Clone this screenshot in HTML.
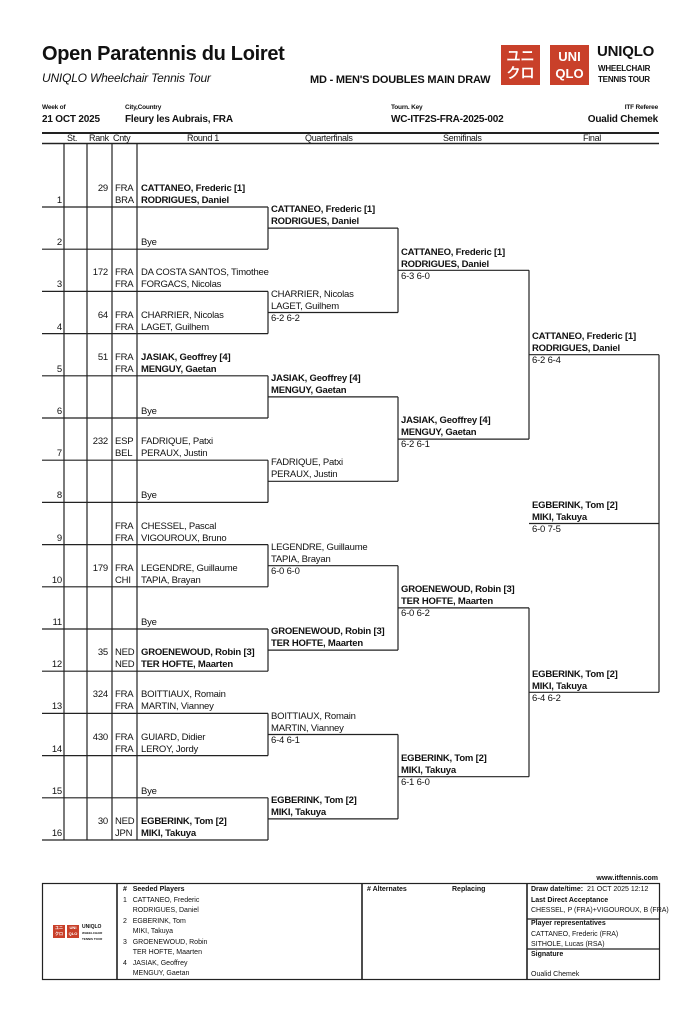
<!DOCTYPE html>
<html><head><meta charset="utf-8"><style>
*{margin:0;padding:0;box-sizing:border-box}
body{width:700px;height:1024px;background:#fff;position:relative;overflow:hidden;font-family:"Liberation Sans",sans-serif;color:#111}
.t{position:absolute;white-space:nowrap;font-size:9.5px;line-height:12px;letter-spacing:-0.2px}
.b{font-weight:bold}
.n{text-align:right}
svg{position:absolute;left:0;top:0}
.red{position:absolute;background:#c9402a;color:#fff;font-weight:bold;text-align:center}
.s{position:absolute;white-space:nowrap;font-size:7px;line-height:10.5px}
.h{position:absolute;white-space:nowrap;font-size:9px;line-height:10px;top:133px;letter-spacing:-0.3px}
</style></head><body>
<svg width="700" height="1024" stroke="#222" stroke-width="1.2" fill="none">
<line x1="42" y1="133" x2="659" y2="133" stroke-width="2"/>
<line x1="42" y1="143.5" x2="659" y2="143.5" stroke-width="1.5"/>
<line x1="64" y1="143" x2="64" y2="840"/><line x1="87" y1="143" x2="87" y2="840"/><line x1="112" y1="143" x2="112" y2="840"/><line x1="137" y1="143" x2="137" y2="840"/>
<g>
<line x1="42" y1="207" x2="268" y2="207"/><line x1="42" y1="249.2" x2="268" y2="249.2"/>
<line x1="42" y1="291.4" x2="268" y2="291.4"/><line x1="42" y1="333.6" x2="268" y2="333.6"/>
<line x1="42" y1="375.8" x2="268" y2="375.8"/><line x1="42" y1="418" x2="268" y2="418"/>
<line x1="42" y1="460.2" x2="268" y2="460.2"/><line x1="42" y1="502.4" x2="268" y2="502.4"/>
<line x1="42" y1="544.6" x2="268" y2="544.6"/><line x1="42" y1="586.8" x2="268" y2="586.8"/>
<line x1="42" y1="629" x2="268" y2="629"/><line x1="42" y1="671.2" x2="268" y2="671.2"/>
<line x1="42" y1="713.4" x2="268" y2="713.4"/><line x1="42" y1="755.6" x2="268" y2="755.6"/>
<line x1="42" y1="797.8" x2="268" y2="797.8"/><line x1="42" y1="840" x2="268" y2="840"/>
<line x1="268" y1="207" x2="268" y2="249.2"/><line x1="268" y1="291.4" x2="268" y2="333.6"/>
<line x1="268" y1="375.8" x2="268" y2="418"/><line x1="268" y1="460.2" x2="268" y2="502.4"/>
<line x1="268" y1="544.6" x2="268" y2="586.8"/><line x1="268" y1="629" x2="268" y2="671.2"/>
<line x1="268" y1="713.4" x2="268" y2="755.6"/><line x1="268" y1="797.8" x2="268" y2="840"/>
<line x1="268" y1="228.1" x2="398" y2="228.1"/><line x1="268" y1="312.5" x2="398" y2="312.5"/>
<line x1="268" y1="396.9" x2="398" y2="396.9"/><line x1="268" y1="481.3" x2="398" y2="481.3"/>
<line x1="268" y1="565.7" x2="398" y2="565.7"/><line x1="268" y1="650.1" x2="398" y2="650.1"/>
<line x1="268" y1="734.5" x2="398" y2="734.5"/><line x1="268" y1="818.9" x2="398" y2="818.9"/>
<line x1="398" y1="228.1" x2="398" y2="312.5"/><line x1="398" y1="396.9" x2="398" y2="481.3"/>
<line x1="398" y1="565.7" x2="398" y2="650.1"/><line x1="398" y1="734.5" x2="398" y2="818.9"/>
<line x1="398" y1="270.3" x2="529" y2="270.3"/><line x1="398" y1="439.1" x2="529" y2="439.1"/>
<line x1="398" y1="607.9" x2="529" y2="607.9"/><line x1="398" y1="776.7" x2="529" y2="776.7"/>
<line x1="529" y1="270.3" x2="529" y2="439.1"/><line x1="529" y1="607.9" x2="529" y2="776.7"/>
<line x1="529" y1="354.7" x2="659" y2="354.7"/><line x1="529" y1="692.3" x2="659" y2="692.3"/>
<line x1="659" y1="354.7" x2="659" y2="692.3"/>
<line x1="529" y1="523.5" x2="659" y2="523.5"/>
</g>
<rect x="42.5" y="883.5" width="617" height="96"/>
<line x1="117" y1="883" x2="117" y2="980" stroke-width="1.6"/>
<line x1="362" y1="883" x2="362" y2="980" stroke-width="1.6"/>
<line x1="527" y1="883" x2="527" y2="980" stroke-width="1.6"/>
<line x1="527" y1="919" x2="659" y2="919"/>
<line x1="527" y1="949" x2="659" y2="949"/>
</svg>

<div class="t b" style="left:42px;top:43px;font-size:20px;line-height:23px;letter-spacing:-0.3px">Open Paratennis du Loiret</div>
<div class="t" style="left:42px;top:71px;font-size:12px;line-height:14px;font-style:italic">UNIQLO Wheelchair Tennis Tour</div>
<div class="t b" style="left:310px;top:73px;font-size:11px;line-height:14px">MD - MEN'S DOUBLES MAIN DRAW</div>
<div class="red" style="left:501px;top:45px;width:39px;height:40px;font-size:14px;line-height:17px;padding-top:3px">ユニ<br>クロ</div>
<div class="red" style="left:550px;top:45px;width:39px;height:40px;font-size:13px;line-height:17px;padding-top:3px">UNI<br>QLO</div>
<div class="t b" style="left:597px;top:43px;font-size:15px;line-height:18px">UNIQLO</div>
<div class="t b" style="left:598px;top:63px;font-size:8px;line-height:11px">WHEELCHAIR<br>TENNIS TOUR</div>

<div class="t b" style="left:42px;top:104px;font-size:6.5px;line-height:8px">Week of</div>
<div class="t b" style="left:42px;top:114px;font-size:10px">21 OCT 2025</div>
<div class="t b" style="left:125px;top:104px;font-size:6.5px;line-height:8px">City,Country</div>
<div class="t b" style="left:125px;top:114px;font-size:10px">Fleury les Aubrais, FRA</div>
<div class="t b" style="left:391px;top:104px;font-size:6.5px;line-height:8px">Tourn. Key</div>
<div class="t b" style="left:391px;top:114px;font-size:10px">WC-ITF2S-FRA-2025-002</div>
<div class="t b n" style="right:42px;top:104px;font-size:6.5px;line-height:8px">ITF Referee</div>
<div class="t b n" style="right:42px;top:114px;font-size:10px">Oualid Chemek</div>

<div class="h" style="left:67px">St.</div>
<div class="h" style="left:89px">Rank</div>
<div class="h" style="left:113px">Cnty</div>
<div class="h" style="left:187px">Round 1</div>
<div class="h" style="left:305px">Quarterfinals</div>
<div class="h" style="left:443px">Semifinals</div>
<div class="h" style="left:583px">Final</div>

<div class="t n" style="right:638px;top:195px">1</div>
<div class="t n" style="right:638px;top:237px">2</div>
<div class="t n" style="right:638px;top:279px">3</div>
<div class="t n" style="right:638px;top:322px">4</div>
<div class="t n" style="right:638px;top:364px">5</div>
<div class="t n" style="right:638px;top:406px">6</div>
<div class="t n" style="right:638px;top:448px">7</div>
<div class="t n" style="right:638px;top:490px">8</div>
<div class="t n" style="right:638px;top:533px">9</div>
<div class="t n" style="right:638px;top:575px">10</div>
<div class="t n" style="right:638px;top:617px">11</div>
<div class="t n" style="right:638px;top:659px">12</div>
<div class="t n" style="right:638px;top:701px">13</div>
<div class="t n" style="right:638px;top:744px">14</div>
<div class="t n" style="right:638px;top:786px">15</div>
<div class="t n" style="right:638px;top:828px">16</div>

<div class="t n" style="right:592px;top:183px">29</div>
<div class="t n" style="right:592px;top:267px">172</div>
<div class="t n" style="right:592px;top:310px">64</div>
<div class="t n" style="right:592px;top:352px">51</div>
<div class="t n" style="right:592px;top:436px">232</div>
<div class="t n" style="right:592px;top:563px">179</div>
<div class="t n" style="right:592px;top:647px">35</div>
<div class="t n" style="right:592px;top:689px">324</div>
<div class="t n" style="right:592px;top:732px">430</div>
<div class="t n" style="right:592px;top:816px">30</div>

<div class="t" style="left:115px;top:183px">FRA<br>BRA</div><div class="t b" style="left:141px;top:183px">CATTANEO, Frederic [1]<br>RODRIGUES, Daniel</div>
<div class="t" style="left:141px;top:237px">Bye</div>
<div class="t" style="left:115px;top:267px">FRA<br>FRA</div><div class="t" style="left:141px;top:267px">DA COSTA SANTOS, Timothee<br>FORGACS, Nicolas</div>
<div class="t" style="left:115px;top:310px">FRA<br>FRA</div><div class="t" style="left:141px;top:310px">CHARRIER, Nicolas<br>LAGET, Guilhem</div>
<div class="t" style="left:115px;top:352px">FRA<br>FRA</div><div class="t b" style="left:141px;top:352px">JASIAK, Geoffrey [4]<br>MENGUY, Gaetan</div>
<div class="t" style="left:141px;top:406px">Bye</div>
<div class="t" style="left:115px;top:436px">ESP<br>BEL</div><div class="t" style="left:141px;top:436px">FADRIQUE, Patxi<br>PERAUX, Justin</div>
<div class="t" style="left:141px;top:490px">Bye</div>
<div class="t" style="left:115px;top:521px">FRA<br>FRA</div><div class="t" style="left:141px;top:521px">CHESSEL, Pascal<br>VIGOUROUX, Bruno</div>
<div class="t" style="left:115px;top:563px">FRA<br>CHI</div><div class="t" style="left:141px;top:563px">LEGENDRE, Guillaume<br>TAPIA, Brayan</div>
<div class="t" style="left:141px;top:617px">Bye</div>
<div class="t" style="left:115px;top:647px">NED<br>NED</div><div class="t b" style="left:141px;top:647px">GROENEWOUD, Robin [3]<br>TER HOFTE, Maarten</div>
<div class="t" style="left:115px;top:689px">FRA<br>FRA</div><div class="t" style="left:141px;top:689px">BOITTIAUX, Romain<br>MARTIN, Vianney</div>
<div class="t" style="left:115px;top:732px">FRA<br>FRA</div><div class="t" style="left:141px;top:732px">GUIARD, Didier<br>LEROY, Jordy</div>
<div class="t" style="left:141px;top:786px">Bye</div>
<div class="t" style="left:115px;top:816px">NED<br>JPN</div><div class="t b" style="left:141px;top:816px">EGBERINK, Tom [2]<br>MIKI, Takuya</div>

<div class="t b" style="left:271px;top:204px">CATTANEO, Frederic [1]<br>RODRIGUES, Daniel</div>
<div class="t" style="left:271px;top:289px">CHARRIER, Nicolas<br>LAGET, Guilhem<br>6-2 6-2</div>
<div class="t b" style="left:271px;top:373px">JASIAK, Geoffrey [4]<br>MENGUY, Gaetan</div>
<div class="t" style="left:271px;top:457px">FADRIQUE, Patxi<br>PERAUX, Justin</div>
<div class="t" style="left:271px;top:542px">LEGENDRE, Guillaume<br>TAPIA, Brayan<br>6-0 6-0</div>
<div class="t b" style="left:271px;top:626px">GROENEWOUD, Robin [3]<br>TER HOFTE, Maarten</div>
<div class="t" style="left:271px;top:711px">BOITTIAUX, Romain<br>MARTIN, Vianney<br>6-4 6-1</div>
<div class="t b" style="left:271px;top:795px">EGBERINK, Tom [2]<br>MIKI, Takuya</div>

<div class="t b" style="left:401px;top:247px">CATTANEO, Frederic [1]<br>RODRIGUES, Daniel<br><span style="font-weight:normal">6-3 6-0</span></div>
<div class="t b" style="left:401px;top:415px">JASIAK, Geoffrey [4]<br>MENGUY, Gaetan<br><span style="font-weight:normal">6-2 6-1</span></div>
<div class="t b" style="left:401px;top:584px">GROENEWOUD, Robin [3]<br>TER HOFTE, Maarten<br><span style="font-weight:normal">6-0 6-2</span></div>
<div class="t b" style="left:401px;top:753px">EGBERINK, Tom [2]<br>MIKI, Takuya<br><span style="font-weight:normal">6-1 6-0</span></div>

<div class="t b" style="left:532px;top:331px">CATTANEO, Frederic [1]<br>RODRIGUES, Daniel<br><span style="font-weight:normal">6-2 6-4</span></div>
<div class="t b" style="left:532px;top:669px">EGBERINK, Tom [2]<br>MIKI, Takuya<br><span style="font-weight:normal">6-4 6-2</span></div>
<div class="t b" style="left:532px;top:500px">EGBERINK, Tom [2]<br>MIKI, Takuya<br><span style="font-weight:normal">6-0 7-5</span></div>

<div class="s b n" style="right:42px;top:874px">www.itftennis.com</div>
<div class="red" style="left:53px;top:925px;width:12px;height:13px;font-size:4px;line-height:6px">ユニ<br>クロ</div>
<div class="red" style="left:67px;top:925px;width:12px;height:13px;font-size:4px;line-height:6px">UNI<br>QLO</div>
<div class="s b" style="left:82px;top:924px;font-size:5px;line-height:6px">UNIQLO<br><span style="font-size:3px;line-height:4px">WHEELCHAIR<br>TENNIS TOUR</span></div>
<div class="s" style="left:123px;top:885px"><b>#&nbsp;&nbsp;&nbsp;Seeded Players</b><br>1&nbsp;&nbsp;&nbsp;CATTANEO, Frederic<br>&nbsp;&nbsp;&nbsp;&nbsp;&nbsp;RODRIGUES, Daniel<br>2&nbsp;&nbsp;&nbsp;EGBERINK, Tom<br>&nbsp;&nbsp;&nbsp;&nbsp;&nbsp;MIKI, Takuya<br>3&nbsp;&nbsp;&nbsp;GROENEWOUD, Robin<br>&nbsp;&nbsp;&nbsp;&nbsp;&nbsp;TER HOFTE, Maarten<br>4&nbsp;&nbsp;&nbsp;JASIAK, Geoffrey<br>&nbsp;&nbsp;&nbsp;&nbsp;&nbsp;MENGUY, Gaetan</div>
<div class="s b" style="left:367px;top:885px"># Alternates</div>
<div class="s b" style="left:452px;top:885px">Replacing</div>
<div class="s" style="left:531px;top:885px"><b>Draw date/time:</b>&nbsp; 21 OCT 2025 12:12<br><b>Last Direct Acceptance</b><br>CHESSEL, P (FRA)+VIGOUROUX, B (FRA)</div>
<div class="s" style="left:531px;top:919px"><b>Player representatives</b><br>CATTANEO, Frederic (FRA)<br>SITHOLE, Lucas (RSA)</div>
<div class="s b" style="left:531px;top:950px">Signature</div>
<div class="s" style="left:531px;top:970px">Oualid Chemek</div>
</body></html>
